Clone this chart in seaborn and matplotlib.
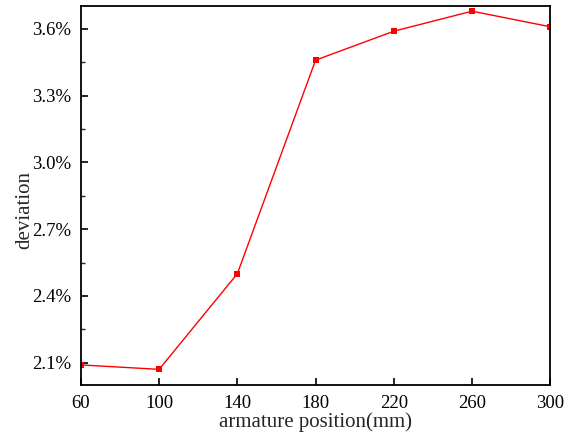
import matplotlib
matplotlib.use("Agg")
import matplotlib.pyplot as plt
from matplotlib.ticker import FuncFormatter, MultipleLocator, AutoMinorLocator
import seaborn as sns
import pandas as pd

positions = [60, 100, 140, 180, 220, 260, 300]
deviation_pct = [2.09, 2.07, 2.50, 3.46, 3.59, 3.68, 3.61]
x_ticks = [60, 100, 140, 180, 220, 260, 300]
y_ticks = [2.1, 2.4, 2.7, 3.0, 3.3, 3.6]

sns.set_theme(style="ticks")
plt.rcParams["font.family"] = ["Liberation Serif", "DejaVu Serif"]

df = pd.DataFrame({"position": positions, "deviation": deviation_pct})

fig = plt.figure(figsize=(5.78, 4.33), dpi=100)
ax = fig.add_axes([0.140, 0.111, 0.812, 0.875])

sns.lineplot(data=df, x="position", y="deviation", ax=ax, color="#ff0000",
             linewidth=1.0, marker="s", markersize=5, markeredgewidth=0)

ax.set_xlim(60, 300)
ax.set_ylim(2.0, 3.703)
ax.set_xticks(x_ticks)
ax.set_yticks(y_ticks)
ax.yaxis.set_minor_locator(MultipleLocator(0.15))
ax.xaxis.set_minor_locator(AutoMinorLocator(2))
ax.yaxis.set_major_formatter(FuncFormatter(lambda v, _: f"{v:.1f}%"))

ax.tick_params(axis="both", which="major", direction="in", length=5, width=1.2,
               labelsize=13.5, colors="black")
ax.tick_params(axis="x", which="major", pad=7)
ax.tick_params(axis="y", which="major", pad=7)
ax.tick_params(axis="both", which="minor", direction="in", length=3, width=1.0)
ax.tick_params(axis="x", which="minor", length=0)

for sp in ax.spines.values():
    sp.set_visible(True)
    sp.set_linewidth(1.3)
    sp.set_color("black")

ax.set_xlabel("armature position(mm)", fontsize=15, labelpad=0.5)
ax.set_ylabel("deviation", fontsize=15)
ax.yaxis.set_label_coords(-0.100, 0.462)

fig.savefig("out.png", dpi=100)
